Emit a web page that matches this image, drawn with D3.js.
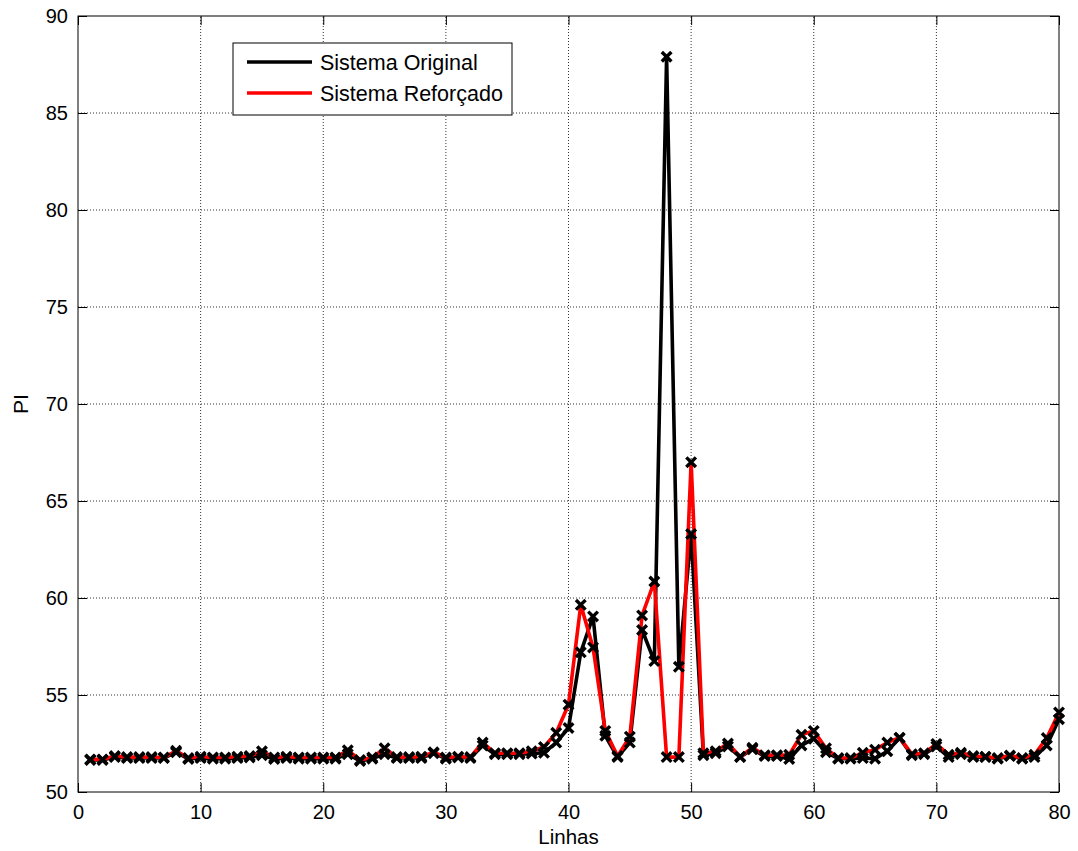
<!DOCTYPE html>
<html>
<head>
<meta charset="utf-8">
<script src="https://cdn.jsdelivr.net/npm/d3@7"></script>
<style>
  body { margin: 0; background: #fff; }
  svg text { font-family: "Liberation Sans", Arial, sans-serif; }
</style>
</head>
<body>
<div id="chart"></div>
<script>
// line numbers 1..80
var linhas = d3.range(1, 81);

var original = [
  51.65, 51.65, 51.8, 51.75, 51.75, 51.75, 51.75, 52.05, 51.7, 51.75,
  51.72, 51.72, 51.75, 51.78, 51.9, 51.7, 51.75, 51.72, 51.72, 51.72,
  51.72, 51.95, 51.6, 51.72, 51.95, 51.75, 51.75, 51.75, 52.0, 51.72,
  51.78, 51.75, 52.4, 51.95, 51.95, 51.95, 51.98, 52.02, 52.55, 53.3,
  57.2, 59.05, 52.9, 51.8, 52.55, 58.35, 56.75, 87.9, 56.45, 63.3,
  51.9, 52.0, 52.35, 51.8, 52.2, 51.85, 51.85, 51.7, 52.4, 52.75,
  52.05, 51.72, 51.72, 51.75, 51.72, 52.1, 52.78, 51.9, 51.95, 52.35,
  51.8, 51.95, 51.8, 51.8, 51.72, 51.85, 51.72, 51.8, 52.4, 53.75
];

var reforcado = [
  51.68, 51.68, 51.85, 51.8, 51.8, 51.8, 51.78, 52.12, 51.75, 51.82,
  51.78, 51.78, 51.82, 51.85, 52.1, 51.78, 51.82, 51.78, 51.78, 51.78,
  51.78, 52.15, 51.65, 51.78, 52.25, 51.8, 51.8, 51.82, 52.05, 51.78,
  51.82, 51.8, 52.55, 52.0, 52.0, 52.0, 52.1, 52.32, 53.05, 54.5,
  59.65, 57.45, 53.15, 51.85, 52.85, 59.1, 60.85, 51.8, 51.8, 67.0,
  52.0, 52.1, 52.5, 51.82, 52.28, 51.9, 51.9, 51.92, 52.95, 53.15,
  52.25, 51.75, 51.75, 52.02, 52.18, 52.55, 52.8, 51.95, 52.0, 52.48,
  51.92, 52.02, 51.85, 51.82, 51.75, 51.88, 51.75, 51.92, 52.78, 54.1
];

var xTicks = [0, 10, 20, 30, 40, 50, 60, 70, 80];
var yTicks = [50, 55, 60, 65, 70, 75, 80, 85, 90];
var seriesNames = ['Sistema Original', 'Sistema Reforçado'];
var seriesColors = ['#000000', '#ff0000'];

var width = 1078, height = 851;
var margins = {top: 16, right: 19, bottom: 59, left: 78};
var w = width - margins.left - margins.right;
var h = height - margins.top - margins.bottom;

var svg = d3.select('#chart').append('svg')
  .attr('width', width)
  .attr('height', height);

var x = d3.scaleLinear().domain([0, 80]).range([margins.left, margins.left + w]);
var y = d3.scaleLinear().domain([50, 90]).range([margins.top + h, margins.top]);

// grid
var grid = svg.append('g').attr('class', 'grid');
grid.selectAll('line.gx').data(xTicks.slice(1, -1)).enter().append('line')
  .attr('x1', d => x(d)).attr('x2', d => x(d))
  .attr('y1', y(50)).attr('y2', y(90))
  .attr('stroke', '#333').attr('stroke-width', 1).attr('stroke-dasharray', '1,2');
grid.selectAll('line.gy').data(yTicks.slice(1, -1)).enter().append('line')
  .attr('y1', d => y(d)).attr('y2', d => y(d))
  .attr('x1', x(0)).attr('x2', x(80))
  .attr('stroke', '#333').attr('stroke-width', 1).attr('stroke-dasharray', '1,2');

// axes (ticks point inward like matlab)
svg.append('g')
  .attr('transform', 'translate(0,' + y(50) + ')')
  .call(d3.axisBottom(x).tickValues(xTicks).tickSize(-9).tickPadding(13).tickSizeOuter(0))
  .call(g => g.select('.domain').remove())
  .call(g => g.selectAll('text').attr('font-size', 20).attr('fill', '#000'));
svg.append('g')
  .attr('transform', 'translate(0,' + y(90) + ')')
  .call(d3.axisTop(x).tickValues(xTicks).tickSize(-9).tickFormat('').tickSizeOuter(0))
  .call(g => g.select('.domain').remove());
svg.append('g')
  .attr('transform', 'translate(' + x(0) + ',0)')
  .call(d3.axisLeft(y).tickValues(yTicks).tickSize(-9).tickPadding(10).tickSizeOuter(0))
  .call(g => g.select('.domain').remove())
  .call(g => g.selectAll('text').attr('font-size', 20).attr('fill', '#000'));
svg.append('g')
  .attr('transform', 'translate(' + x(80) + ',0)')
  .call(d3.axisRight(y).tickValues(yTicks).tickSize(-9).tickFormat('').tickSizeOuter(0))
  .call(g => g.select('.domain').remove());

svg.append('rect')
  .attr('x', x(0)).attr('y', y(90))
  .attr('width', x(80) - x(0)).attr('height', y(50) - y(90))
  .attr('fill', 'none').attr('stroke', '#000').attr('stroke-width', 1);

// lines
var line = d3.line().x((d, i) => x(linhas[i])).y(d => y(d));
[original, reforcado].forEach(function (s, k) {
  svg.append('path').datum(s)
    .attr('d', line)
    .attr('fill', 'none')
    .attr('stroke', seriesColors[k])
    .attr('stroke-width', 3.6)
    .attr('stroke-linejoin', 'round');
});

// markers, black bold x on both series
var ms = 4.8;
[original, reforcado].forEach(function (s) {
  svg.append('g').selectAll('path').data(s).enter().append('path')
    .attr('d', (d, i) => {
      var cx = x(linhas[i]), cy = y(d);
      return 'M' + (cx - ms) + ',' + (cy - ms) + 'L' + (cx + ms) + ',' + (cy + ms) +
             'M' + (cx - ms) + ',' + (cy + ms) + 'L' + (cx + ms) + ',' + (cy - ms);
    })
    .attr('stroke', '#000').attr('stroke-width', 3.4);
});

// axis labels
svg.append('text')
  .attr('x', (x(0) + x(80)) / 2).attr('y', 844)
  .attr('text-anchor', 'middle').attr('font-size', 20.5)
  .text('Linhas');
svg.append('text')
  .attr('transform', 'translate(28,' + (y(70)) + ') rotate(-90)')
  .attr('text-anchor', 'middle').attr('font-size', 21)
  .text('PI');

// legend
var lg = svg.append('g').attr('transform', 'translate(233,43)');
lg.append('rect').attr('width', 279).attr('height', 72)
  .attr('fill', '#fff').attr('stroke', '#000').attr('stroke-width', 1);
seriesNames.forEach(function (name, k) {
  var ly = 19 + k * 31;
  lg.append('line').attr('x1', 14).attr('x2', 79).attr('y1', ly).attr('y2', ly)
    .attr('stroke', seriesColors[k]).attr('stroke-width', 3.4);
  lg.append('text').attr('x', 87).attr('y', ly + 8)
    .attr('font-size', 21.5).text(name);
});
</script>
</body>
</html>
